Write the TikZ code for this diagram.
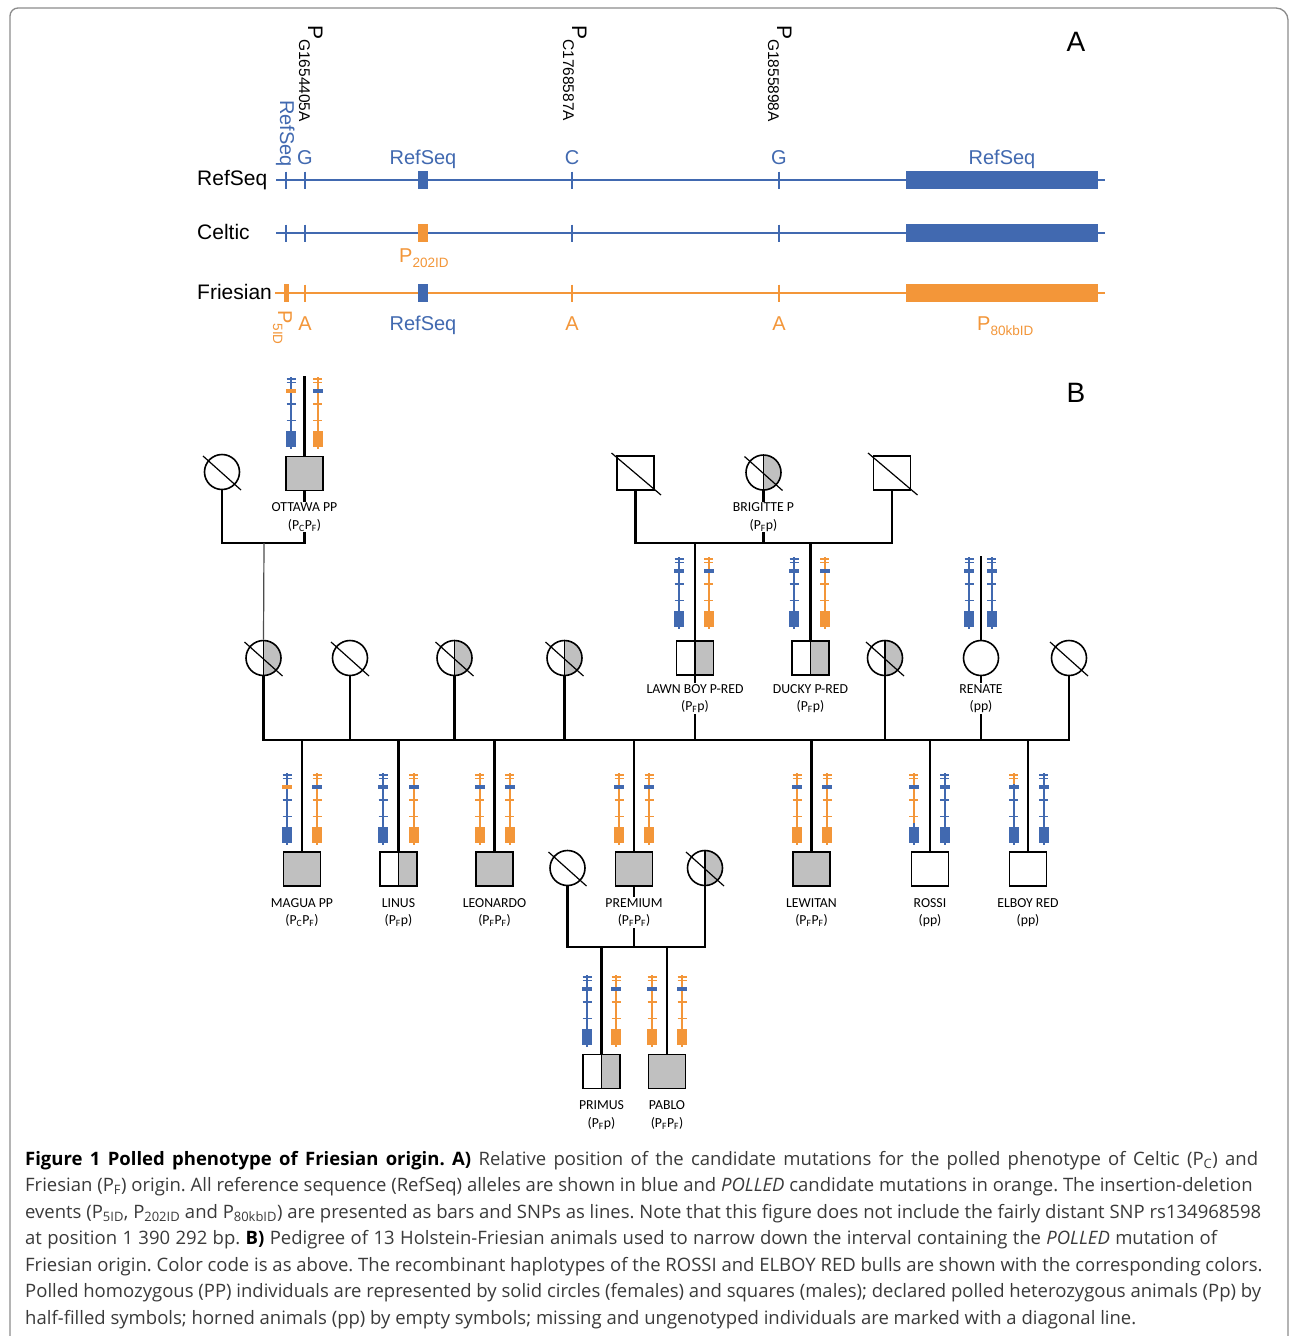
\documentclass[tikz,border=0pt]{standalone}
\usepackage{fontspec}
\setmainfont{Liberation Sans}
\newfontfamily\labf{Carlito}
\newfontfamily\capf{Open Sans}
\usetikzlibrary{calc}
\definecolor{hb}{HTML}{4169B0}
\definecolor{ho}{HTML}{F39639}
\definecolor{pg}{HTML}{C0C0C0}
\definecolor{capc}{HTML}{3A3A3A}
\definecolor{frm}{HTML}{8C8C8C}
\newcommand\fsA{\fontsize{21}{25}\selectfont}
\newcommand\fsB{\fontsize{20}{24}\selectfont}
\newcommand\fsS{\fontsize{13.5}{16}\selectfont}
\newcommand\fsV{\fontsize{15.5}{18}\selectfont}
% haplotype icon: x, y0, top colour, bar colour, middle colour, box colour
\newcommand\hap[6]{%
  \draw[#3,hl] (#1,#2) -- (#1,#2+11);
  \draw[#3,ht] (#1-4.5,#2+2) -- (#1+4.5,#2+2) (#1-4.5,#2+5.5) -- (#1+4.5,#2+5.5);
  \draw[#5,hl] (#1,#2+11) -- (#1,#2+50);
  \draw[#5,ht] (#1-4.5,#2+27) -- (#1+4.5,#2+27) (#1-4.5,#2+43.5) -- (#1+4.5,#2+43.5);
  \fill[#4] (#1-5,#2+12.3) rectangle (#1+5,#2+16.3);
  \draw[#6,hl] (#1,#2+50) -- (#1,#2+72);
  \fill[#6] (#1-5,#2+53.5) rectangle (#1+5,#2+69.5);
}
\newcommand\hR[2]{\hap{#1}{#2}{hb}{hb}{hb}{hb}}
\newcommand\hC[2]{\hap{#1}{#2}{hb}{ho}{hb}{hb}}
\newcommand\hF[2]{\hap{#1}{#2}{ho}{hb}{ho}{ho}}
\newcommand\diagc[1]{\draw[dg] ([shift={(-19,-16)}]#1.center) -- ([shift={(19,18)}]#1.center);}
\newcommand\diags[1]{\draw[dg] ([shift={(-24,-20)}]#1.center) -- ([shift={(25.5,22)}]#1.center);}
\begin{document}
\frenchspacing
\begin{tikzpicture}[x=1pt,y=-1pt,
  hl/.style={line width=2pt},
  ht/.style={line width=1.6pt},
  seqline/.style={line width=2.2pt},
  seqtick/.style={line width=1.8pt},
  ped/.style={line width=2.4pt,line cap=rect},
  thinped/.style={line width=1.2pt,draw=black!70},
  dg/.style={line width=1.2pt},
  male/.style={draw,rectangle,line width=1.6pt,minimum width=37pt,minimum height=34pt,inner sep=0pt,fill=white},
  female/.style={draw,circle,line width=1.6pt,minimum size=35pt,inner sep=0pt,fill=white},
  full/.style={fill=pg},
  half/.style={path picture={\fill[pg] (path picture bounding box.north) rectangle (path picture bounding box.south east);
      \draw[line width=1.6pt] (path picture bounding box.north) -- (path picture bounding box.south);}},
  lbl/.style={font=\labf\fontsize{13.75}{17.5}\selectfont,align=center,fill=white,inner sep=1pt},
  vlab/.style={rotate=-90,anchor=base west,inner sep=0pt},
  capl/.style={anchor=base west,inner sep=0pt,font=\capf\fontsize{18.5}{22}\selectfont,text=capc}
]
\useasboundingbox (0,0) rectangle (1290,1336);
\fill[white] (0,0) rectangle (1290,1336);
% frame
\draw[frm,line width=1.3pt] (10,1340) -- (10,16) arc[start angle=180,end angle=270,radius=8] -- (1276,8) arc[start angle=270,end angle=360,radius=12] -- (1288,1340);

% ================= Panel A =================
\node[font=\fontsize{28}{32}\selectfont] (pA) at (1076,42) {A};
\node[font=\fontsize{28}{32}\selectfont] (pB) at (1076,393) {B};

\node[vlab,font=\fsA] (v1) at (308,25) {P\raisebox{-9pt}{\fsV G1654405A}};
\node[vlab,font=\fsA] (v2) at (572,25) {P\raisebox{-9pt}{\fsV C1768587A}};
\node[vlab,font=\fsA] (v3) at (777,25) {P\raisebox{-9pt}{\fsV G1855898A}};

% RefSeq row
\coordinate (ra) at (276,180); \coordinate (rb) at (1105,180);
\draw[hb,seqline] (ra) -- (rb);
\foreach \x in {286,305,572,779} \draw[hb,seqtick] (\x,171.5) -- (\x,188.5);
\fill[hb] (418,171) rectangle (428,189);
\fill[hb] (906,171) rectangle (1098,189);
% Celtic row
\coordinate (ca) at (276,233); \coordinate (cb) at (1105,233);
\draw[hb,seqline] (ca) -- (cb);
\foreach \x in {286,305,572,779} \draw[hb,seqtick] (\x,224.5) -- (\x,241.5);
\fill[ho] (418,224) rectangle (428,242);
\fill[hb] (906,224) rectangle (1098,242);
% Friesian row
\coordinate (fa) at (275,293); \coordinate (fb) at (1105,293);
\draw[ho,seqline] (fa) -- (fb);
\foreach \x in {305,572,779} \draw[ho,seqtick] (\x,284.5) -- (\x,301.5);
\fill[ho] (283.5,284) rectangle (289,302);
\fill[hb] (418,284) rectangle (428,302);
\fill[ho] (906,284) rectangle (1098,302);

\node[anchor=west,font=\fsA,inner sep=0pt] (tR) at (197,180) {RefSeq};
\node[anchor=west,font=\fsA,inner sep=0pt] (tC) at (197,232) {Celtic};
\node[anchor=west,font=\fsA,inner sep=0pt] (tF) at (197,292) {Friesian};

\node[vlab,font=\fsB,text=hb] (rv) at (280,100) {RefSeq};
\node[anchor=base,font=\fsB,text=hb,inner sep=0pt] (a1) at (305,164) {G};
\node[anchor=base,font=\fsB,text=hb,inner sep=0pt] (a2) at (423,164) {RefSeq};
\node[anchor=base,font=\fsB,text=hb,inner sep=0pt] (a3) at (572,164) {C};
\node[anchor=base,font=\fsB,text=hb,inner sep=0pt] (a4) at (779,164) {G};
\node[anchor=base,font=\fsB,text=hb,inner sep=0pt] (a5) at (1002,164) {RefSeq};

\node[anchor=base west,inner sep=0pt,text=ho,font=\fsB] (p202) at (399,262) {P\raisebox{-5pt}{\fsS 202ID}};
\node[vlab,text=ho,font=\fsB] (p5) at (278,310) {P\raisebox{-5pt}{\fsS 5ID}};
\node[anchor=base,font=\fsB,text=ho,inner sep=0pt] (b1) at (305,330) {A};
\node[anchor=base,font=\fsB,text=hb,inner sep=0pt] (b2) at (423,330) {RefSeq};
\node[anchor=base,font=\fsB,text=ho,inner sep=0pt] (b3) at (572,330) {A};
\node[anchor=base,font=\fsB,text=ho,inner sep=0pt] (b4) at (779,330) {A};
\node[anchor=base west,inner sep=0pt,text=ho,font=\fsB] (p80) at (977,330) {P\raisebox{-5pt}{\fsS 80kbID}};

% ================= Panel B =================
% row 1
\node[female] (m1) at (222,472) {};
\node[male,full] (ott) at (304.5,473.5) {};
\node[male] (s1) at (635.5,473) {};
\node[female,half] (bri) at (763.5,472.5) {};
\node[male] (s2) at (892,473) {};
% row 2
\node[female,half] (c1) at (263.5,658) {};
\node[female] (c2) at (350,658) {};
\node[female,half] (c3) at (454.5,658) {};
\node[female,half] (c4) at (564.5,658) {};
\node[male,half] (lb) at (695,658) {};
\node[male,half] (du) at (810.5,658) {};
\node[female,half] (c5) at (885,658) {};
\node[female] (ren) at (981,658) {};
\node[female] (c6) at (1069,658) {};
% row 3
\node[male,full] (mag) at (302,869) {};
\node[male,half] (lin) at (398.5,869) {};
\node[male,full] (leo) at (494.5,869) {};
\node[female] (c7) at (567.5,868) {};
\node[male,full] (pre) at (634,869) {};
\node[female,half] (c8) at (705,868) {};
\node[male,full] (lew) at (811.5,869) {};
\node[male] (ros) at (930,869) {};
\node[male] (elb) at (1028,869) {};
% row 4
\node[male,half] (pri) at (601.5,1071.5) {};
\node[male,full] (pab) at (667,1071.5) {};

% junction points
\coordinate (ja) at (264,543);
\coordinate (jb) at (763.5,543);
\coordinate (jl) at (263.5,740);
\coordinate (jr) at (1069,740);
\coordinate (jd) at (634,947);
\coordinate (ot) at (304.5,377);
\coordinate (rt) at (981,557);

% connectors
\draw[ped] (m1.south) |- (ja) -- (ott.south |- ja) -- (ott.south);
\draw[ped] (ot) -- (ott.north);
\draw[thinped] (ja) -- (c1.north);
\draw[ped] (s1.south) |- (jb) -| (s2.south);
\draw[ped] (bri.south) -- (jb);
\draw[ped] (lb.north |- jb) -- (lb.north);
\draw[ped] (du.north |- jb) -- (du.north);
\draw[ped] (rt) -- (ren.north);
\draw[ped] (c1.south) -- (jl) -- (jr) -- (c6.south);
\foreach \n in {c2,c3,c4,c5,ren,lb} \draw[ped] (\n.south) -- (\n.south |- jl);
\foreach \n in {mag,lin,leo,pre,lew,ros,elb} \draw[ped] (\n.north |- jl) -- (\n.north);
\draw[ped] (c7.south) |- (jd) -| (c8.south);
\draw[ped] (pre.south) -- (jd);
\draw[ped] (pri.north |- jd) -- (pri.north);
\draw[ped] (pab.north |- jd) -- (pab.north);

% diagonal marks
\diagc{m1} \diags{s1} \diagc{bri} \diags{s2}
\diagc{c1} \diagc{c2} \diagc{c3} \diagc{c4} \diagc{c5} \diagc{c6}
\diagc{c7} \diagc{c8}

% labels
\node[lbl] (l-ott) at (304.5,517) {OTTAWA PP\\(P\textsubscript{C}P\textsubscript{F})};
\node[lbl] (l-bri) at (763.5,517) {BRIGITTE P\\(P\textsubscript{F}p)};
\node[lbl] (l-lb) at (695,698.5) {LAWN BOY P-RED\\(P\textsubscript{F}p)};
\node[lbl] (l-du) at (810.5,698.5) {DUCKY P-RED\\(P\textsubscript{F}p)};
\node[lbl] (l-ren) at (981,698.5) {RENATE\\(pp)};
\node[lbl] (l-mag) at (302,912.5) {MAGUA PP\\(P\textsubscript{C}P\textsubscript{F})};
\node[lbl] (l-lin) at (398.5,912.5) {LINUS\\(P\textsubscript{F}p)};
\node[lbl] (l-leo) at (494.5,912.5) {LEONARDO\\(P\textsubscript{F}P\textsubscript{F})};
\node[lbl] (l-pre) at (634,912.5) {PREMIUM\\(P\textsubscript{F}P\textsubscript{F})};
\node[lbl] (l-lew) at (811.5,912.5) {LEWITAN\\(P\textsubscript{F}P\textsubscript{F})};
\node[lbl] (l-ros) at (930,912.5) {ROSSI\\(pp)};
\node[lbl] (l-elb) at (1028,912.5) {ELBOY RED\\(pp)};
\node[lbl] (l-pri) at (601.5,1115) {PRIMUS\\(P\textsubscript{F}p)};
\node[lbl] (l-pab) at (667,1115) {PABLO\\(P\textsubscript{F}P\textsubscript{F})};

% haplotype icons
\hC{291}{377} \hF{317.5}{377}
\hR{679}{557} \hF{708.5}{557}
\hR{794}{557} \hF{824.5}{557}
\hR{969}{557} \hR{991.5}{557}
\hC{287}{773} \hF{317}{773}
\hR{383}{773} \hF{413.5}{773}
\hF{479.5}{773} \hF{509.5}{773}
\hF{619}{773} \hF{649}{773}
\hF{797}{773} \hF{827}{773}
\hap{913.5}{773}{ho}{hb}{ho}{hb} \hR{944.5}{773}
\hap{1013.5}{773}{ho}{hb}{hb}{hb} \hR{1043.5}{773}
\hR{587}{975} \hF{616}{975}
\hF{652}{975} \hF{682}{975}

% ================= Caption =================
\node[capl] (k1) at (25,1165) {\makebox[1233pt][s]{\textbf{\color{black}Figure 1 Polled phenotype of Friesian origin. A)} Relative position of the candidate mutations for the polled phenotype of Celtic (P\textsubscript{C}) and}};
\node[capl] (k2) at (25,1191.5) {Friesian (P\textsubscript{F}) origin. All reference sequence (RefSeq) alleles are shown in blue and \textit{POLLED} candidate mutations in orange. The insertion-deletion};
\node[capl] (k3) at (25,1218) {events (P\textsubscript{5ID}, P\textsubscript{202ID} and P\textsubscript{80kbID}) are presented as bars and SNPs as lines. Note that this figure does not include the fairly distant SNP rs134968598};
\node[capl] (k4) at (25,1244.5) {\makebox[1192pt][s]{at position 1 390 292 bp. \textbf{\color{black}B)} Pedigree of 13 Holstein-Friesian animals used to narrow down the interval containing the \textit{POLLED} mutation of}};
\node[capl] (k5) at (25,1271) {Friesian origin. Color code is as above. The recombinant haplotypes of the ROSSI and ELBOY RED bulls are shown with the corresponding colors.};
\node[capl] (k6) at (25,1297.5) {Polled homozygous (PP) individuals are represented by solid circles (females) and squares (males); declared polled heterozygous animals (Pp) by};
\node[capl] (k7) at (25,1324) {half-filled symbols; horned animals (pp) by empty symbols; missing and ungenotyped individuals are marked with a diagonal line.};
\end{tikzpicture}
\end{document}
